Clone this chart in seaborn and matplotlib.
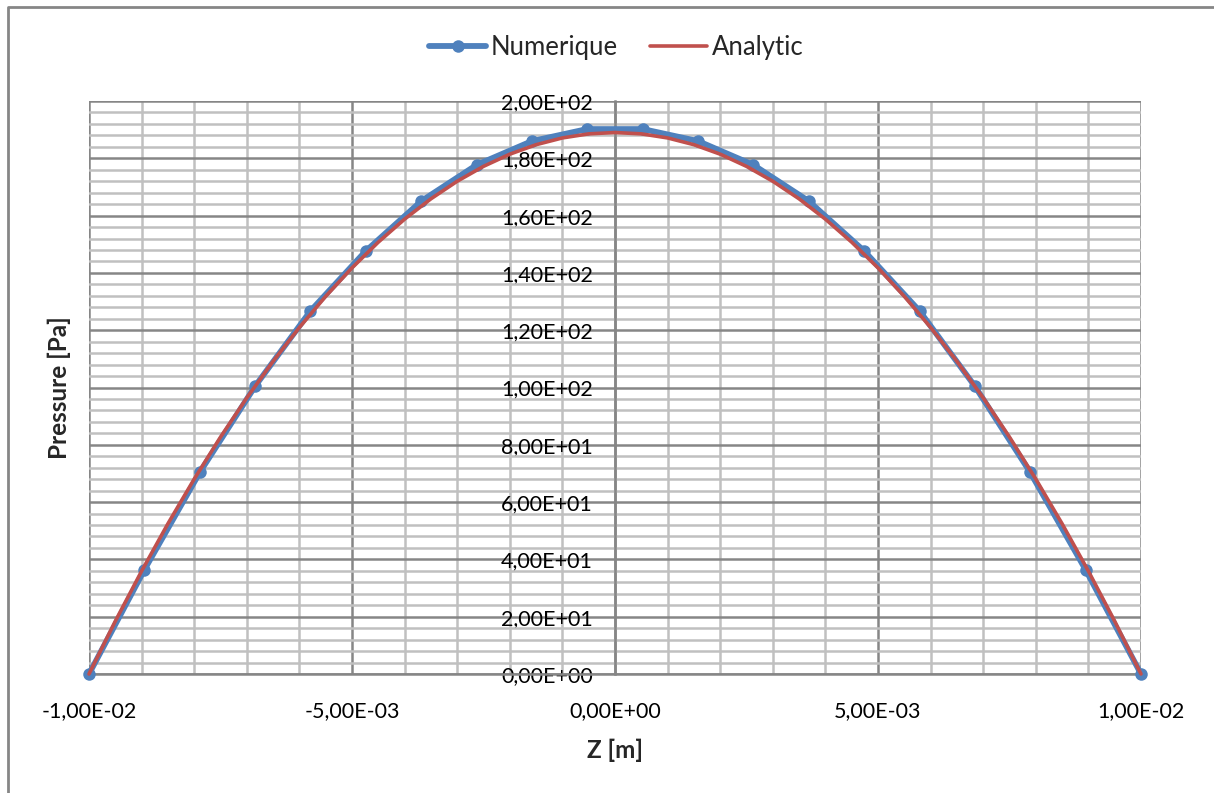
import matplotlib
matplotlib.use("Agg")
import matplotlib.pyplot as plt
from matplotlib.ticker import MultipleLocator, FuncFormatter
from matplotlib.lines import Line2D
import seaborn as sns
import pandas as pd

# Numeric solution
z_num = [-0.01, -0.00895, -0.00789, -0.00684, -0.00579, -0.00474, -0.00368, -0.00263,
         -0.00158, -0.00053, 0.00053, 0.00158, 0.00263, 0.00368, 0.00474, 0.00579,
         0.00684, 0.00789, 0.00895, 0.01]
p_num = [0.0, 36.3, 70.5, 100.5, 126.7, 147.6, 165.1, 177.7, 186.0, 190.2,
         190.2, 186.0, 177.7, 165.1, 147.6, 126.7, 100.5, 70.5, 36.3, 0.0]

# Analytic curve
z_ana = [-0.01, -0.0095, -0.009, -0.0085, -0.008, -0.0075, -0.007, -0.0065, -0.006, -0.0055,
         -0.005, -0.0045, -0.004, -0.0035, -0.003, -0.0025, -0.002, -0.0015, -0.001, -0.0005,
         0.0, 0.0005, 0.001, 0.0015, 0.002, 0.0025, 0.003, 0.0035, 0.004, 0.0045,
         0.005, 0.0055, 0.006, 0.0065, 0.007, 0.0075, 0.008, 0.0085, 0.009, 0.0095, 0.01]
p_ana = [0.0, 18.43, 35.91, 52.45, 68.04, 82.69, 96.39, 109.15, 120.96, 131.83,
         141.75, 150.73, 158.76, 165.85, 171.99, 177.19, 181.44, 184.75, 187.11, 188.53,
         189.0, 188.53, 187.11, 184.75, 181.44, 177.19, 171.99, 165.85, 158.76, 150.73,
         141.75, 131.83, 120.96, 109.15, 96.39, 82.69, 68.04, 52.45, 35.91, 18.43, 0.0]

series_names = ["Numerique", "Analytic"]
x_label = "Z [m]"
y_label = "Pressure [Pa]"

sns.set_style("white")
plt.rcParams["font.family"] = ["Lato", "DejaVu Sans"]

BLUE = "#4F81BD"
RED = "#C0504D"
MAJ = "#868686"
MIN = "#C0C0C0"

fig = plt.figure(figsize=(12.14, 7.93), dpi=100)
ax = fig.add_axes([89 / 1214, 1 - 674 / 793, (1141 - 89) / 1214, (674 - 101) / 793])

df_num = pd.DataFrame({"z": z_num, "p": p_num})
df_ana = pd.DataFrame({"z": z_ana, "p": p_ana})

sns.lineplot(data=df_num, x="z", y="p", ax=ax, color=BLUE, lw=4.2, marker="o",
             markersize=9, markeredgewidth=0, label=series_names[0], zorder=3,
             clip_on=False)
sns.lineplot(data=df_ana, x="z", y="p", ax=ax, color=RED, lw=2.6,
             label=series_names[1], zorder=4, clip_on=False)

ax.set_xlim(-0.01, 0.01)
ax.set_ylim(0, 200)

ax.xaxis.set_major_locator(MultipleLocator(0.005))
ax.xaxis.set_minor_locator(MultipleLocator(0.001))
ax.yaxis.set_major_locator(MultipleLocator(20))
ax.yaxis.set_minor_locator(MultipleLocator(4))

fmt = FuncFormatter(lambda v, pos: ("%.2E" % v).replace(".", ","))
ax.xaxis.set_major_formatter(fmt)
ax.yaxis.set_major_formatter(fmt)

ax.grid(which="minor", color=MIN, lw=1.8, zorder=0)
ax.grid(which="major", color=MAJ, lw=1.8, zorder=0)
ax.set_axisbelow(True)

for s in ["top", "right"]:
    ax.spines[s].set_visible(False)
ax.spines["left"].set_position(("data", 0))
ax.spines["bottom"].set_position(("data", 0))
for s in ["left", "bottom"]:
    ax.spines[s].set_color(MAJ)
    ax.spines[s].set_linewidth(1.8)

ax.tick_params(which="major", direction="out", length=6, width=1.5, color=MAJ,
               labelsize=15.5, labelcolor="black")
ax.tick_params(axis="y", which="major", pad=10)
ax.tick_params(axis="x", which="major", pad=13.5)
ax.tick_params(which="minor", length=0)

ax.set_xlabel("")
ax.set_ylabel("")
fig.text(615 / 1214, 1 - 750 / 793, x_label, ha="center", va="center",
         fontsize=17.5, fontweight="bold")
fig.text(59 / 1214, 1 - 388 / 793, y_label, ha="center", va="center",
         rotation=90, fontsize=17.5, fontweight="bold")

ax.legend(loc="center", bbox_to_anchor=(616.5 / 1214, 1 - 47 / 793),
          bbox_transform=fig.transFigure, ncol=2, frameon=False, fontsize=18.5,
          handlelength=2.2, columnspacing=1.25, handletextpad=0.2)

# outer chart frame (left and top edges)
fig.add_artist(Line2D([8 / 1214, 8 / 1214, 1.0], [0.0, 1 - 7 / 793, 1 - 7 / 793],
                      transform=fig.transFigure, color=MAJ, lw=2))

fig.savefig("out.png", dpi=100)
